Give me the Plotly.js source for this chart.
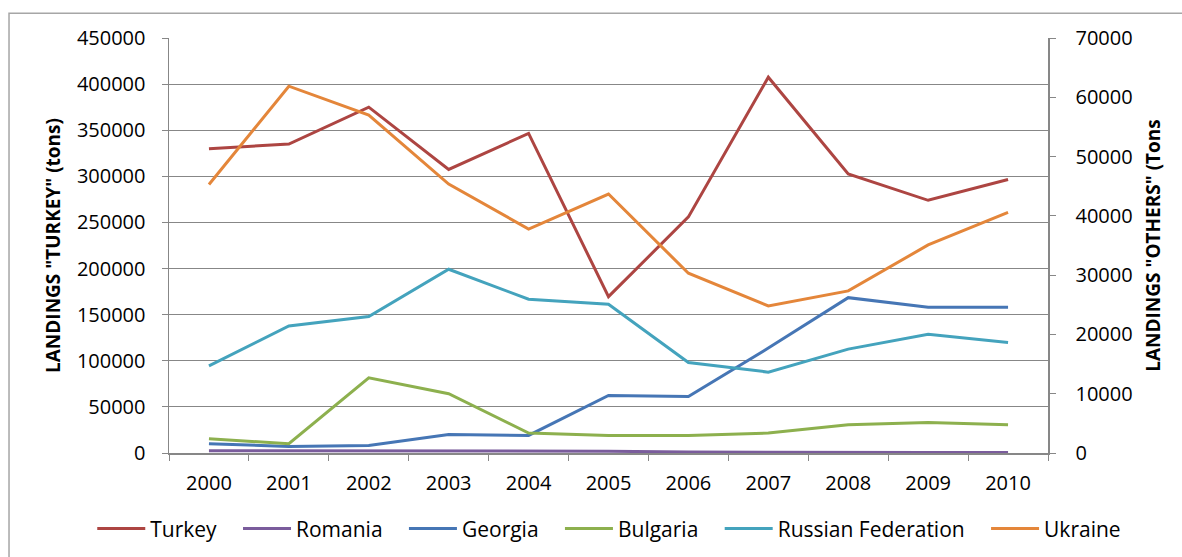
<!DOCTYPE html>
<html>
<head>
<meta charset="utf-8">
<script src="https://cdn.plot.ly/plotly-3.0.1.min.js"></script>
<style>html,body{margin:0;padding:0;background:#fff;}#chart{width:1182px;height:557px;}</style>
</head>
<body>
<div id="chart"></div>
<script>
var years = ['2000','2001','2002','2003','2004','2005','2006','2007','2008','2009','2010'];
var seriesNames = ['Turkey', 'Romania', 'Georgia', 'Bulgaria', 'Russian Federation', 'Ukraine'];
var turkey = [330000, 335000, 375000, 307500, 346500, 169500, 256000, 407500, 302500, 274000, 296500];
var romania = [400, 400, 400, 350, 350, 300, 150, 100, 100, 100, 100];
var georgia = [1570, 1110, 1280, 3130, 2960, 9700, 9530, 17700, 26200, 24600, 24600];
var bulgaria = [2410, 1570, 12680, 9990, 3370, 2960, 2960, 3370, 4770, 5150, 4770];
var russia = [14700, 21440, 23010, 30990, 25940, 25100, 15260, 13640, 17520, 20040, 18630];
var ukraine = [45300, 61870, 57000, 45360, 37780, 43680, 30320, 24810, 27340, 35100, 40590];

var leftTitle = 'LANDINGS "TURKEY" (tons)';
var rightTitle = 'LANDINGS "OTHERS" (Tons';

var pad = '\u00A0\u00A0\u00A0';
function tr(i, y, color, axis) {
  var nm = seriesNames[i] + (i < seriesNames.length - 1 ? pad : '');
  return {x: years, y: y, name: nm, type: 'scatter', mode: 'lines',
    yaxis: axis, line: {color: color, width: 3}};
}
var data = [
  tr(0, turkey, '#AD4542', 'y'),
  tr(1, romania, '#7A5C9C', 'y2'),
  tr(2, georgia, '#4676B5', 'y2'),
  tr(3, bulgaria, '#8DB04E', 'y2'),
  tr(4, russia, '#44A3BD', 'y2'),
  tr(5, ukraine, '#E4863A', 'y2')
];
var gray = '#878787';
var fam = '"Open Sans", Lato, sans-serif';
var fnt = {family: fam, size: 20, color: '#000'};
var lfnt = {family: fam, size: 21, color: '#000'};
var tfnt = {family: fam, size: 19, color: '#000', weight: 'bold'};
var layout = {
  width: 1182, height: 557,
  margin: {l: 169, r: 134, t: 38, b: 104, autoexpand: false},
  paper_bgcolor: '#fff', plot_bgcolor: '#fff',
  font: fnt,
  showlegend: true,
  legend: {orientation: 'h', x: -0.0873, xanchor: 'left', y: -0.183, yanchor: 'middle',
    font: lfnt, itemwidth: 48, traceorder: 'normal', bgcolor: 'rgba(0,0,0,0)'},
  xaxis: {type: 'category', range: [-0.5, 10.5], tickson: 'boundaries', ticks: 'outside', ticklen: 6,
    tickcolor: gray, showline: true, linecolor: gray, linewidth: 1.5, showgrid: false,
    tickfont: fnt, ticklabelstandoff: 11, zeroline: false},
  yaxis: {range: [0, 450000], dtick: 50000, ticks: 'outside', ticklen: 6, tickcolor: gray,
    showline: true, linecolor: gray, linewidth: 1.5, gridcolor: gray, gridwidth: 1,
    zeroline: false, tickfont: fnt, ticklabelstandoff: 12, tickformat: 'd',
    title: {text: leftTitle, font: tfnt, standoff: 11}},
  yaxis2: {range: [0, 70000], dtick: 10000, overlaying: 'y', side: 'right', ticks: 'outside',
    ticklen: 6, tickcolor: gray, showline: true, linecolor: gray, linewidth: 1.5,
    showgrid: false, zeroline: false, tickfont: fnt, ticklabelstandoff: 16, tickformat: 'd',
    title: {text: rightTitle, font: tfnt, standoff: 15}},
  shapes: [{type: 'rect', xref: 'paper', yref: 'paper', x0: -0.182, x1: 1.2, y0: -0.3, y1: 1.0594,
    line: {color: '#a6a6a6', width: 1.5}, fillcolor: 'rgba(0,0,0,0)', layer: 'below'}]
};
Plotly.newPlot('chart', data, layout, {displayModeBar: false, staticPlot: true});
</script>
</body>
</html>
